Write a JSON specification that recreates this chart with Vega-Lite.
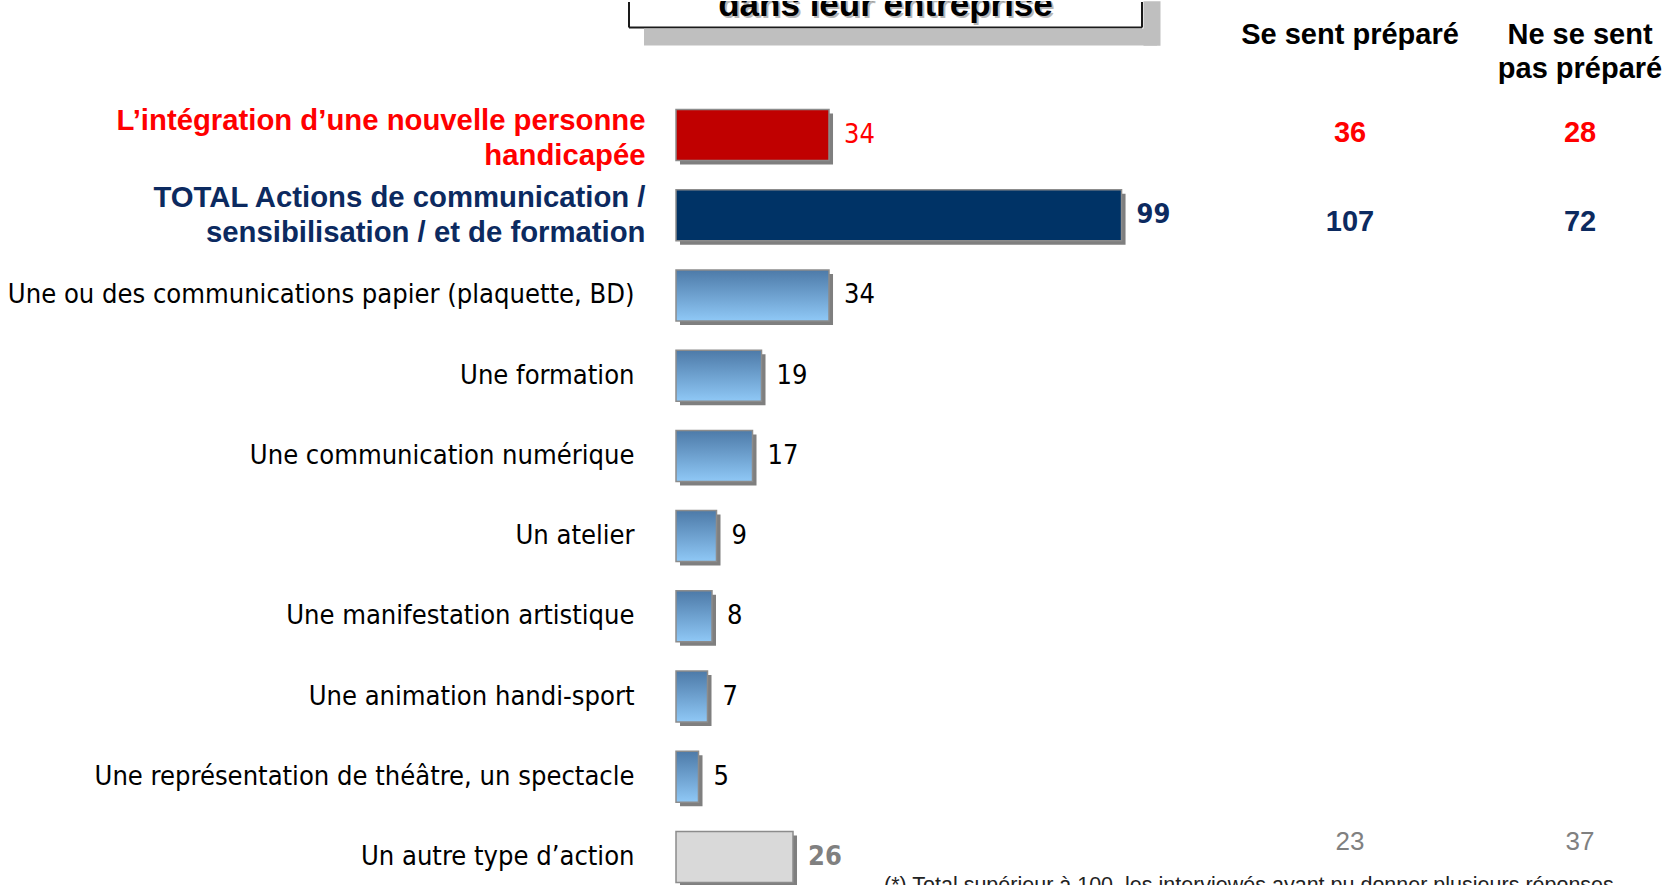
{
  "$schema": "https://vega.github.io/schema/vega-lite/v6.json",
  "padding": 0,
  "background": "white",
  "columns": 3,
  "spacing": 0,
  "align": "each",
  "bounds": "full",
  "title": {
    "text": "(*) Total supérieur à 100, les interviewés ayant pu donner plusieurs réponses",
    "orient": "bottom", "anchor": "start", "frame": "group", "baseline": "top",
    "dx": 208, "offset": -10.5, "font": "Liberation Sans", "fontSize": 21.5, "fontWeight": "normal", "color": "#222222"
  },
  "datasets": {
    "rows": [
      {"cat": "L’intégration d’une nouvelle personne handicapée", "val": 34, "grp": "focus", "prep": 36, "nprep": 28},
      {"cat": "TOTAL Actions de communication / sensibilisation / et de formation", "val": 99, "grp": "total", "prep": 107, "nprep": 72},
      {"cat": "Une ou des communications papier (plaquette, BD)", "val": 34, "grp": "item"},
      {"cat": "Une formation", "val": 19, "grp": "item"},
      {"cat": "Une communication numérique", "val": 17, "grp": "item"},
      {"cat": "Un atelier", "val": 9, "grp": "item"},
      {"cat": "Une manifestation artistique", "val": 8, "grp": "item"},
      {"cat": "Une animation handi-sport", "val": 7, "grp": "item"},
      {"cat": "Une représentation de théâtre, un spectacle", "val": 5, "grp": "item"},
      {"cat": "Un autre type d’action", "val": 26, "grp": "other", "prep": 23, "nprep": 37}
    ]
  },
  "concat": [
    {
      "width": 513,
      "height": 26.5,
      "data": {"values": [{"t": "dans leur entreprise"}]},
      "layer": [
        {
          "mark": {"type": "text", "clip": true, "font": "Liberation Sans", "fontWeight": "bold", "fontSize": 35, "baseline": "alphabetic", "dx": -45, "dy": 3.5, "color": "#9a9a9a", "opacity": 0.7},
          "encoding": {
            "text": {"field": "t"},
            "x": {"datum": 0.5, "type": "quantitative", "scale": {"domain": [0, 1]}, "axis": {"orient": "bottom", "title": null, "labels": false, "values": [0, 1], "ticks": true, "tickSize": -25.5, "tickWidth": 2, "tickColor": "#1a1a1a", "domain": true, "domainColor": "#1a1a1a", "domainWidth": 2, "offset": 47, "translate": -47}},
            "y": {"datum": 0.5, "type": "quantitative", "scale": {"domain": [0, 1]}, "axis": null}
          }
        },
        {
          "mark": {"type": "text", "clip": true, "font": "Liberation Sans", "fontWeight": "bold", "fontSize": 35, "baseline": "alphabetic", "dx": -47, "dy": 1.5, "color": "black"},
          "encoding": {
            "text": {"field": "t"},
            "x": {"datum": 0.5, "type": "quantitative", "axis": {"orient": "bottom", "title": null, "labels": false, "ticks": false, "domain": true, "domainColor": "#bfbfbf", "domainWidth": 17, "offset": 41.5, "translate": -32}},
            "y": {"datum": 0.5, "type": "quantitative", "axis": {"orient": "right", "title": null, "labels": false, "domain": false, "values": [0.179], "ticks": true, "tickSize": 17, "tickWidth": 44.5, "tickColor": "#bfbfbf", "offset": -46, "minExtent": 0, "maxExtent": 0}}
          }
        }
      ],
      "resolve": {"axis": {"y": "independent", "x": "independent"}}
    },
    {
      "width": 294,
      "height": 105,
      "data": {"values": [{"h": "Se sent préparé"}]},
      "mark": {"type": "text", "font": "Liberation Sans", "fontWeight": "bold", "fontSize": 29, "dy": -18.25, "baseline": "middle", "color": "black"},
      "encoding": {"text": {"field": "h"}}
    },
    {
      "width": 162,
      "height": 105,
      "data": {"values": [{"h": ["Ne se sent", "pas préparé"]}]},
      "mark": {"type": "text", "font": "Liberation Sans", "fontWeight": "bold", "fontSize": 29, "dy": -18.25, "baseline": "middle", "lineHeight": 34, "color": "black"},
      "encoding": {"text": {"field": "h"}}
    },
    {
      "width": 527,
      "height": 778,
      "data": {"name": "rows"},
      "encoding": {
        "y": {
          "field": "cat", "type": "nominal", "sort": null,
          "scale": {"paddingInner": 0.3645, "paddingOuter": 0.031},
          "axis": {
            "orient": "left", "title": null, "domain": false, "ticks": false,
            "minExtent": 676, "maxExtent": 676, "labelLimit": 0, "labelLineHeight": 35,
            "labelExpr": "datum.value == 'L’intégration d’une nouvelle personne handicapée' ? ['L’intégration d’une nouvelle personne', 'handicapée'] : datum.value == 'TOTAL Actions de communication / sensibilisation / et de formation' ? ['TOTAL Actions de communication /', 'sensibilisation / et de formation'] : datum.value",
            "labelColor": {"condition": [{"test": "datum.value == 'L’intégration d’une nouvelle personne handicapée'", "value": "#FF0000"}, {"test": "datum.value == 'TOTAL Actions de communication / sensibilisation / et de formation'", "value": "#0C2A60"}], "value": "black"},
            "labelFont": {"condition": {"test": "datum.index < 0.15", "value": "Liberation Sans"}, "value": "DejaVu Sans Condensed"},
            "labelFontWeight": {"condition": {"test": "datum.index < 0.15", "value": "bold"}, "value": "normal"},
            "labelFontSize": {"condition": {"test": "datum.index < 0.15", "value": 29.3}, "value": 27.1},
            "labelPadding": {"condition": {"test": "datum.index < 0.15", "value": 31}, "value": 42},
            "labelOffset": {"condition": [{"test": "datum.index == 0", "value": -14}, {"test": "datum.index > 0 && datum.index < 0.15", "value": -17.5}], "value": 0}
          }
        }
      },
      "layer": [
        {
          "mark": {"type": "bar", "clip": true, "fill": "#7f7f7f", "xOffset": 4, "x2Offset": 4, "yOffset": 4},
          "encoding": {"x": {"field": "val", "type": "quantitative", "scale": {"domain": [0, 117.1], "nice": false}, "axis": null}}
        },
        {
          "mark": {"type": "bar", "stroke": "#8c8c8c", "strokeWidth": 1.5},
          "encoding": {
            "x": {"field": "val", "type": "quantitative"},
            "fill": {
              "condition": [
                {"test": "datum.grp === 'focus'", "value": "#C00000"},
                {"test": "datum.grp === 'total'", "value": "#003366"},
                {"test": "datum.grp === 'other'", "value": "#D9D9D9"}
              ],
              "value": {"gradient": "linear", "x1": 0, "y1": 0, "x2": 0, "y2": 1, "stops": [{"offset": 0, "color": "#4d7aa8"}, {"offset": 1, "color": "#8fc8f6"}]}
            }
          }
        },
        {
          "transform": [{"filter": "datum.grp === 'item' || datum.grp === 'focus'"}],
          "mark": {"type": "text", "align": "left", "baseline": "middle", "dx": 15, "font": "DejaVu Sans Condensed", "fontSize": 27},
          "encoding": {
            "x": {"field": "val", "type": "quantitative"},
            "text": {"field": "val"},
            "color": {"condition": {"test": "datum.grp === 'focus'", "value": "#FF0000"}, "value": "black"}
          }
        },
        {
          "transform": [{"filter": "datum.grp === 'total' || datum.grp === 'other'"}],
          "mark": {"type": "text", "align": "left", "baseline": "middle", "dx": 15, "font": "DejaVu Sans Condensed", "fontWeight": "bold", "fontSize": 27},
          "encoding": {
            "x": {"field": "val", "type": "quantitative"},
            "text": {"field": "val"},
            "color": {"condition": {"test": "datum.grp === 'total'", "value": "#0C2A60"}, "value": "#808080"}
          }
        }
      ]
    },
    {
      "width": 294,
      "height": 778,
      "data": {"name": "rows"},
      "encoding": {
        "y": {
          "field": "cat", "type": "nominal",
          "scale": {"type": "band", "paddingInner": 0.3645, "paddingOuter": 0.031, "domain": ["L’intégration d’une nouvelle personne handicapée", "TOTAL Actions de communication / sensibilisation / et de formation", "Une ou des communications papier (plaquette, BD)", "Une formation", "Une communication numérique", "Un atelier", "Une manifestation artistique", "Une animation handi-sport", "Une représentation de théâtre, un spectacle", "Un autre type d’action"]},
          "axis": null
        }
      },
      "layer": [
        {
          "transform": [{"filter": "datum.grp === 'focus'"}],
          "mark": {"type": "text", "baseline": "middle", "dy": -2, "font": "Liberation Sans", "fontWeight": "bold", "fontSize": 29, "color": "#FF0000"},
          "encoding": {"text": {"field": "prep"}}
        },
        {
          "transform": [{"filter": "datum.grp === 'total'"}],
          "mark": {"type": "text", "baseline": "middle", "dy": 7, "font": "Liberation Sans", "fontWeight": "bold", "fontSize": 29, "color": "#0C2A60"},
          "encoding": {"text": {"field": "prep"}}
        },
        {
          "transform": [{"filter": "datum.grp === 'other'"}],
          "mark": {"type": "text", "baseline": "middle", "font": "Liberation Sans", "fontSize": 26, "dy": -15, "color": "#808080"},
          "encoding": {"text": {"field": "prep"}}
        }
      ]
    },
    {
      "width": 162,
      "height": 778,
      "data": {"name": "rows"},
      "encoding": {
        "y": {
          "field": "cat", "type": "nominal",
          "scale": {"type": "band", "paddingInner": 0.3645, "paddingOuter": 0.031, "domain": ["L’intégration d’une nouvelle personne handicapée", "TOTAL Actions de communication / sensibilisation / et de formation", "Une ou des communications papier (plaquette, BD)", "Une formation", "Une communication numérique", "Un atelier", "Une manifestation artistique", "Une animation handi-sport", "Une représentation de théâtre, un spectacle", "Un autre type d’action"]},
          "axis": null
        }
      },
      "layer": [
        {
          "transform": [{"filter": "datum.grp === 'focus'"}],
          "mark": {"type": "text", "baseline": "middle", "dy": -2, "font": "Liberation Sans", "fontWeight": "bold", "fontSize": 29, "color": "#FF0000"},
          "encoding": {"text": {"field": "nprep"}}
        },
        {
          "transform": [{"filter": "datum.grp === 'total'"}],
          "mark": {"type": "text", "baseline": "middle", "dy": 7, "font": "Liberation Sans", "fontWeight": "bold", "fontSize": 29, "color": "#0C2A60"},
          "encoding": {"text": {"field": "nprep"}}
        },
        {
          "transform": [{"filter": "datum.grp === 'other'"}],
          "mark": {"type": "text", "baseline": "middle", "font": "Liberation Sans", "fontSize": 26, "dy": -15, "color": "#808080"},
          "encoding": {"text": {"field": "nprep"}}
        }
      ]
    }
  ],
  "config": {"view": {"stroke": null}, "axis": {"grid": false}}
}
